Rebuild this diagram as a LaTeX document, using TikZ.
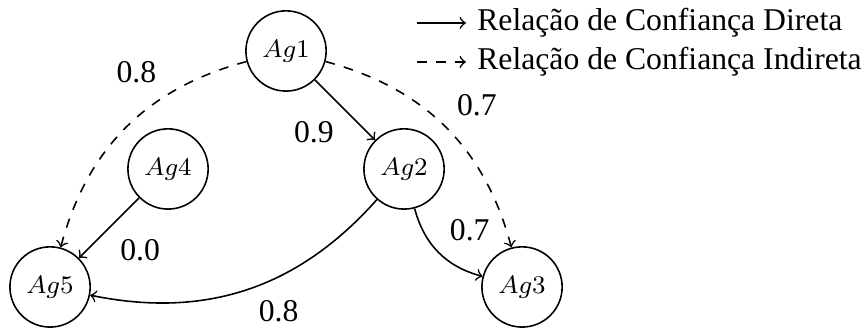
\documentclass[tikz,border=0pt]{standalone}
\usepackage{fontspec}
\setmainfont{LiberationSerif}[Extension=.ttf, UprightFont=*-Regular, BoldFont=*-Bold, ItalicFont=*-Italic, BoldItalicFont=*-BoldItalic]
\usepackage{tikz}
\usetikzlibrary{positioning}
\tikzstyle{agent} = [circle, draw=black, minimum size=0.89cm, inner sep=0pt, font=\footnotesize]
\tikzstyle{direct} = [->]
\tikzstyle{indirect} = [->, dashed]

\begin{document}
\begin{tikzpicture}[x=1.309cm, y=1.309cm, line width=0.5pt]
\useasboundingbox (-0.424,-0.373) rectangle (6.915,2.432);
\node[agent] (ag5) at (0,0) {$Ag5$};
\node[agent] (ag4) at (1,1) {$Ag4$};
\node[agent] (ag1) at (2,2) {$Ag1$};
\node[agent] (ag2) at (3,1) {$Ag2$};
\node[agent] (ag3) at (4,0) {$Ag3$};

\draw[direct] (ag1) -- node[below left] (l12) {0.9} (ag2);
\draw[direct] (ag4) -- node[below right] (l45) {0.0} (ag5);
\draw[direct] (ag2) to[bend left=30] node[pos=0.5, below right] (l25) {0.8} (ag5);
\draw[direct] (ag2) to[bend right=30] node[pos=0.5, above right] (l23) {0.7} (ag3);
\draw[indirect] (ag1) to[bend right=30] node[pos=0.3, above left] (l15) {0.8} (ag5);
\draw[indirect] (ag1) to[bend left=30] node[pos=0.5, above right] (l13) {0.7} (ag3);

% legenda
\coordinate (d0) at (3.11,2.237);
\coordinate (i0) at (3.11,1.907);
\node[anchor=west] (dtext) at (3.525,2.237) {Relação de Confiança Direta};
\node[anchor=west] (itext) at (3.525,1.907) {Relação de Confiança Indireta};
\draw[direct] (d0) -- (dtext);
\draw[indirect] (i0) -- (itext);
\end{tikzpicture}
\end{document}
